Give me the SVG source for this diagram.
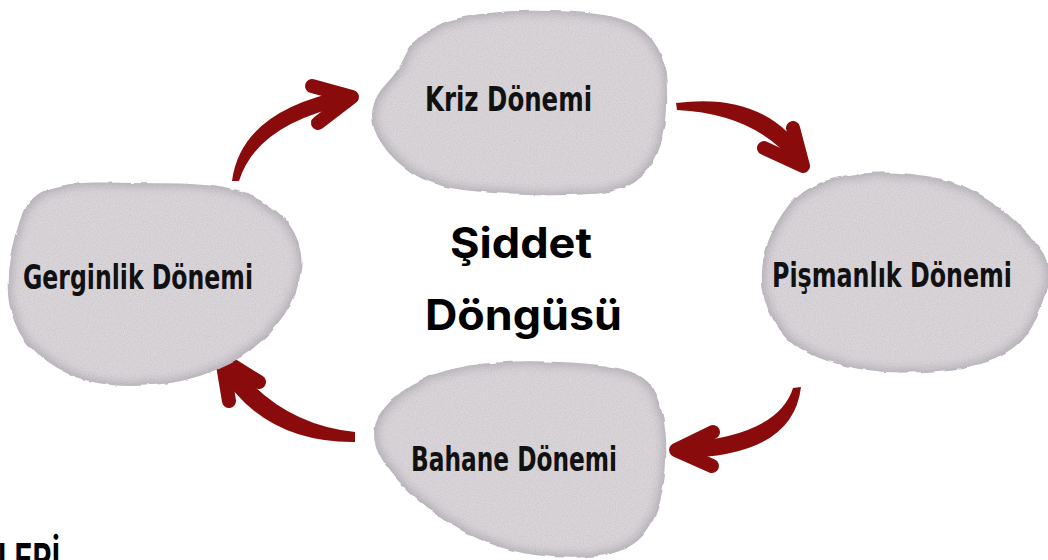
<svg xmlns="http://www.w3.org/2000/svg" width="1048" height="560" viewBox="0 0 1048 560">
  <defs>
    <!-- watercolour wash: grain plus darker rim -->
    <filter id="wash" x="-5%" y="-5%" width="110%" height="110%">
      <feTurbulence type="fractalNoise" baseFrequency="0.05" numOctaves="3" seed="7" result="warp"/>
      <feDisplacementMap in="SourceGraphic" in2="warp" scale="4" xChannelSelector="R" yChannelSelector="G" result="shape"/>
      <feTurbulence type="fractalNoise" baseFrequency="0.85" numOctaves="2" seed="3" result="noise"/>
      <feColorMatrix in="noise" type="matrix" values="0 0 0 0 0.42  0 0 0 0 0.40  0 0 0 0 0.45  0.7 0 0 0 -0.25" result="grain"/>
      <feComposite in="grain" in2="shape" operator="in" result="grainIn"/>
      <feMorphology in="shape" operator="erode" radius="3" result="er"/>
      <feGaussianBlur in="er" stdDeviation="5" result="erb"/>
      <feComposite in="shape" in2="erb" operator="out" result="rim"/>
      <feFlood flood-color="#8d8795" flood-opacity="0.55"/>
      <feComposite in2="rim" operator="in" result="rimCol"/>
      <feMerge>
        <feMergeNode in="shape"/>
        <feMergeNode in="grainIn"/>
        <feMergeNode in="rimCol"/>
      </feMerge>
    </filter>
  </defs>
  <style>
    .blob { fill: #dad5d9; filter: url(#wash); }
    .label { font-family: "Liberation Sans Narrow", "DejaVu Sans Condensed", "Liberation Sans", sans-serif; font-weight: bold; font-size: 34px; fill: #111; }
    .title { font-family: "Inter", "Liberation Sans", sans-serif; font-weight: 700; font-size: 42px; fill: #000; }
    .shaft { fill: #8a0b0b; }
    .head { fill: none; stroke: #8a0b0b; stroke-width: 14; stroke-linecap: round; stroke-linejoin: round; }
  </style>

  <rect width="1048" height="560" fill="#ffffff"/>

  <!-- connectors -->
  <g id="connectors">
    <g id="arrow-gerginlik-kriz">
      <path class="shaft" d="M232,181 Q241,111 345,90 L347,105 Q257,124 239,181 Z"/>
      <path class="head" d="M312,86 L352,97 L318,123"/>
    </g>
    <g id="arrow-kriz-pismanlik">
      <path class="shaft" d="M676,103 Q767,91 807,157 L795,164 Q756,114 677,110 Z"/>
      <path class="head" d="M793,128 L803,166 L764,148"/>
    </g>
    <g id="arrow-pismanlik-bahane">
      <path class="shaft" d="M801,387 Q793,457 680,458 L680,443 Q778,436 793,388 Z"/>
      <path class="head" d="M713,432 L676,450 L712,466"/>
    </g>
    <g id="arrow-bahane-gerginlik">
      <path class="shaft" d="M355,442 Q261,443 217,367 L230,358 Q277,424 355,432 Z"/>
      <path class="head" d="M259,382 L222,359 L229,401"/>
    </g>
  </g>

  <!-- nodes -->
  <g id="node-kriz">
    <path class="blob" d="M549,11 Q595,12 617.5,18 Q640,24 652,39.5 Q664,55 666,75 Q668,95 666.5,115 Q665,135 657.5,153.5 Q650,172 635,182 Q620,192 590,194 Q560,196 527.5,195 Q495,194 463.5,190 Q432,186 412,173 Q392,160 381,142.5 Q370,125 372.5,110 Q375,95 386.5,83.5 Q398,72 405,56 Q412,40 428.5,30 Q445,20 474,15 Q503,10 549,11 Z"/>
    <text class="label" x="425" y="111" textLength="167" lengthAdjust="spacingAndGlyphs">Kriz Dönemi</text>
  </g>

  <g id="node-gerginlik">
    <path class="blob" d="M175,183.5 Q220,184 247.5,194.5 Q275,205 289.5,225 Q304,245 301,270 Q298,295 284,315 Q270,335 251,350 Q232,365 201,375.5 Q170,386 132.5,386 Q95,386 68.5,374 Q42,362 27,343.5 Q12,325 9,302.5 Q6,280 10,257.5 Q14,235 22,215 Q30,195 50,188.5 Q70,182 100,182.5 Q130,183 175,183.5 Z"/>
    <text class="label" x="23" y="289" textLength="230" lengthAdjust="spacingAndGlyphs">Gerginlik Dönemi</text>
  </g>

  <g id="node-pismanlik">
    <path class="blob" d="M910,174 Q950,178 975,191.5 Q1000,205 1015,220 Q1030,235 1041,248.5 Q1052,262 1048.5,283.5 Q1045,305 1030,330 Q1015,355 980,364 Q945,373 902.5,372.5 Q860,372 827.5,361 Q795,350 780,330 Q765,310 762.5,287.5 Q760,265 767.5,243.5 Q775,222 790,203.5 Q805,185 837.5,177.5 Q870,170 910,174 Z"/>
    <text class="label" x="772" y="287" textLength="240" lengthAdjust="spacingAndGlyphs">Pişmanlık Dönemi</text>
  </g>

  <g id="node-bahane">
    <path class="blob" d="M590,364 Q640,368 651.5,386.5 Q663,405 665.5,433.5 Q668,462 662.5,491 Q657,520 642.5,536 Q628,552 599,556 Q570,560 535,555 Q500,550 470,535 Q440,520 417.5,500 Q395,480 382.5,460 Q370,440 376,422.5 Q382,405 401,391.5 Q420,378 445,371 Q470,364 505,362 Q540,360 590,364 Z"/>
    <text class="label" x="411" y="471" textLength="206" lengthAdjust="spacingAndGlyphs">Bahane Dönemi</text>
  </g>

  <!-- centre title -->
  <g id="title">
    <text class="title" x="450" y="258" textLength="142" lengthAdjust="spacingAndGlyphs">Şiddet</text>
    <text class="title" x="425" y="330" textLength="197" lengthAdjust="spacingAndGlyphs">Döngüsü</text>
  </g>

  <!-- heading running off the bottom edge -->
  <text class="title" x="-2" y="574" font-size="25" textLength="62" lengthAdjust="spacingAndGlyphs">LERİ</text>
</svg>
